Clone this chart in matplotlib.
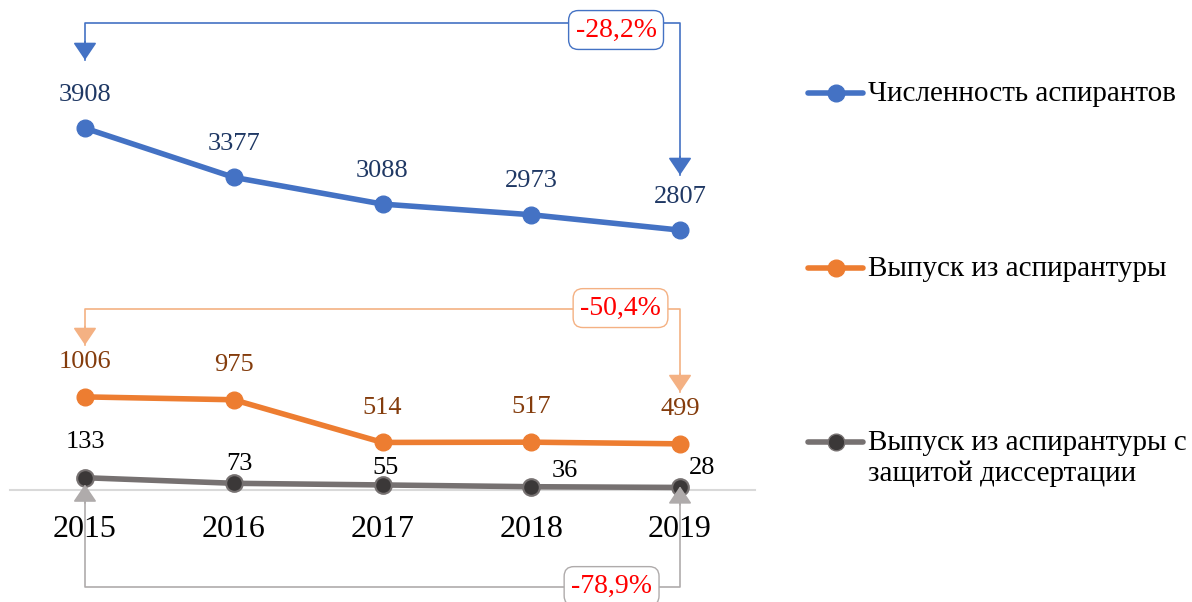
import matplotlib
matplotlib.use('Agg')
import matplotlib.pyplot as plt
from matplotlib.lines import Line2D
import numpy as np

plt.rcParams['font.family'] = ['Liberation Serif', 'DejaVu Serif']

# данные
years = ['2015', '2016', '2017', '2018', '2019']
students = [3908, 3377, 3088, 2973, 2807]
graduates = [1006, 975, 514, 517, 499]
defended = [133, 73, 55, 36, 28]

series_names = ['Численность аспирантов', 'Выпуск из аспирантуры',
                'Выпуск из аспирантуры с\nзащитой диссертации']
changes = ['-28,2%', '-50,4%', '-78,9%']

W, H = 1192, 602
fig = plt.figure(figsize=(W / 100, H / 100), dpi=100)
ax = fig.add_axes([10 / W, 0, 745 / W, 1])
ax.set_xlim(-0.504, 4.504)
ax.set_ylim(-1209, 5292)

x = np.arange(len(years))

blue, orange = '#4472C4', '#ED7D31'
gray_line, gray_mark = '#767171', '#3B3838'

ax.plot(x, students, color=blue, lw=4, marker='o', ms=12, zorder=3)
ax.plot(x, graduates, color=orange, lw=4, marker='o', ms=12, zorder=3)
ax.plot(x, defended, color=gray_line, lw=4, marker='o', ms=12,
        mfc=gray_mark, mec=gray_line, mew=1.5, zorder=3)

# подписи значений
for xi, v in zip(x, students):
    ax.annotate(str(v), (xi, v), xytext=(0, 24), textcoords='offset points',
                ha='center', va='center', fontsize=19, color='#1F3864')
for xi, v in zip(x, graduates):
    ax.annotate(str(v), (xi, v), xytext=(0, 25), textcoords='offset points',
                ha='center', va='center', fontsize=19, color='#843C0C')
gray_offsets = [(0, 26), (4, 14), (2, 12), (24, 11), (16, 14)]
for xi, v, off in zip(x, defended, gray_offsets):
    ax.annotate(str(v), (xi, v), xytext=off, textcoords='offset points',
                ha='center', va='center', fontsize=19, color='black')

# ось
for s in ['top', 'right', 'left']:
    ax.spines[s].set_visible(False)
ax.spines['bottom'].set_position(('data', 0))
ax.spines['bottom'].set_color('#D9D9D9')
ax.spines['bottom'].set_linewidth(1.5)
ax.set_yticks([])
ax.set_xticks(x)
ax.set_xticklabels(years, fontsize=23)
ax.tick_params(axis='x', length=0, pad=18)


# скобки с процентами
def bracket(level, left_tip, right_tip, color, text, box_x, box_y):
    ax.plot([0, 0, 4, 4], [left_tip, level, level, right_tip], color=color,
            lw=1.2, clip_on=False, zorder=1)
    for xi, tip in [(0, left_tip), (4, right_tip)]:
        d = 1 if tip < level else -1
        ax.annotate('', xy=(xi, tip), xytext=(xi, tip + d * 200),
                    arrowprops=dict(arrowstyle='-|>,head_length=0.4,head_width=0.27',
                                    color=color, lw=1.2, mutation_scale=27,
                                    shrinkA=0, shrinkB=0),
                    annotation_clip=False)
    ax.text(box_x, box_y, text, ha='center', va='center', fontsize=20,
            color='red', zorder=4,
            bbox=dict(boxstyle='round,pad=0.25,rounding_size=0.35',
                      fc='white', ec=color, lw=1))


bracket(5043, 4644, 3402, blue, changes[0], 3.57, 4968)
bracket(1955, 1566, 1058, '#F4B183', changes[1], 3.60, 1965)
bracket(-1047, 60, 40, '#AFABAB', changes[2], 3.54, -1037)


# легенда
def px(xp, yp):
    return xp / W, 1 - yp / H


legend_rows = [(93, blue, blue, blue), (268, orange, orange, orange),
               (442, gray_line, gray_mark, gray_line)]
for name, (yp, lc, mfc, mec) in zip(series_names, legend_rows):
    (x0, y0), (x1, _) = px(808, yp), px(863, yp)
    fig.add_artist(Line2D([x0, x1], [y0, y0], color=lc, lw=4,
                          solid_capstyle='round', transform=fig.transFigure))
    fig.add_artist(Line2D([(x0 + x1) / 2], [y0], marker='o', ms=12,
                          mfc=mfc, mec=mec, color=lc,
                          transform=fig.transFigure))
    tx, ty = px(868, yp - 12)
    fig.text(tx, ty, name, ha='left', va='top', fontsize=21, color='black',
             linespacing=1.2)

fig.savefig('out.png', dpi=100)
plt.close(fig)
